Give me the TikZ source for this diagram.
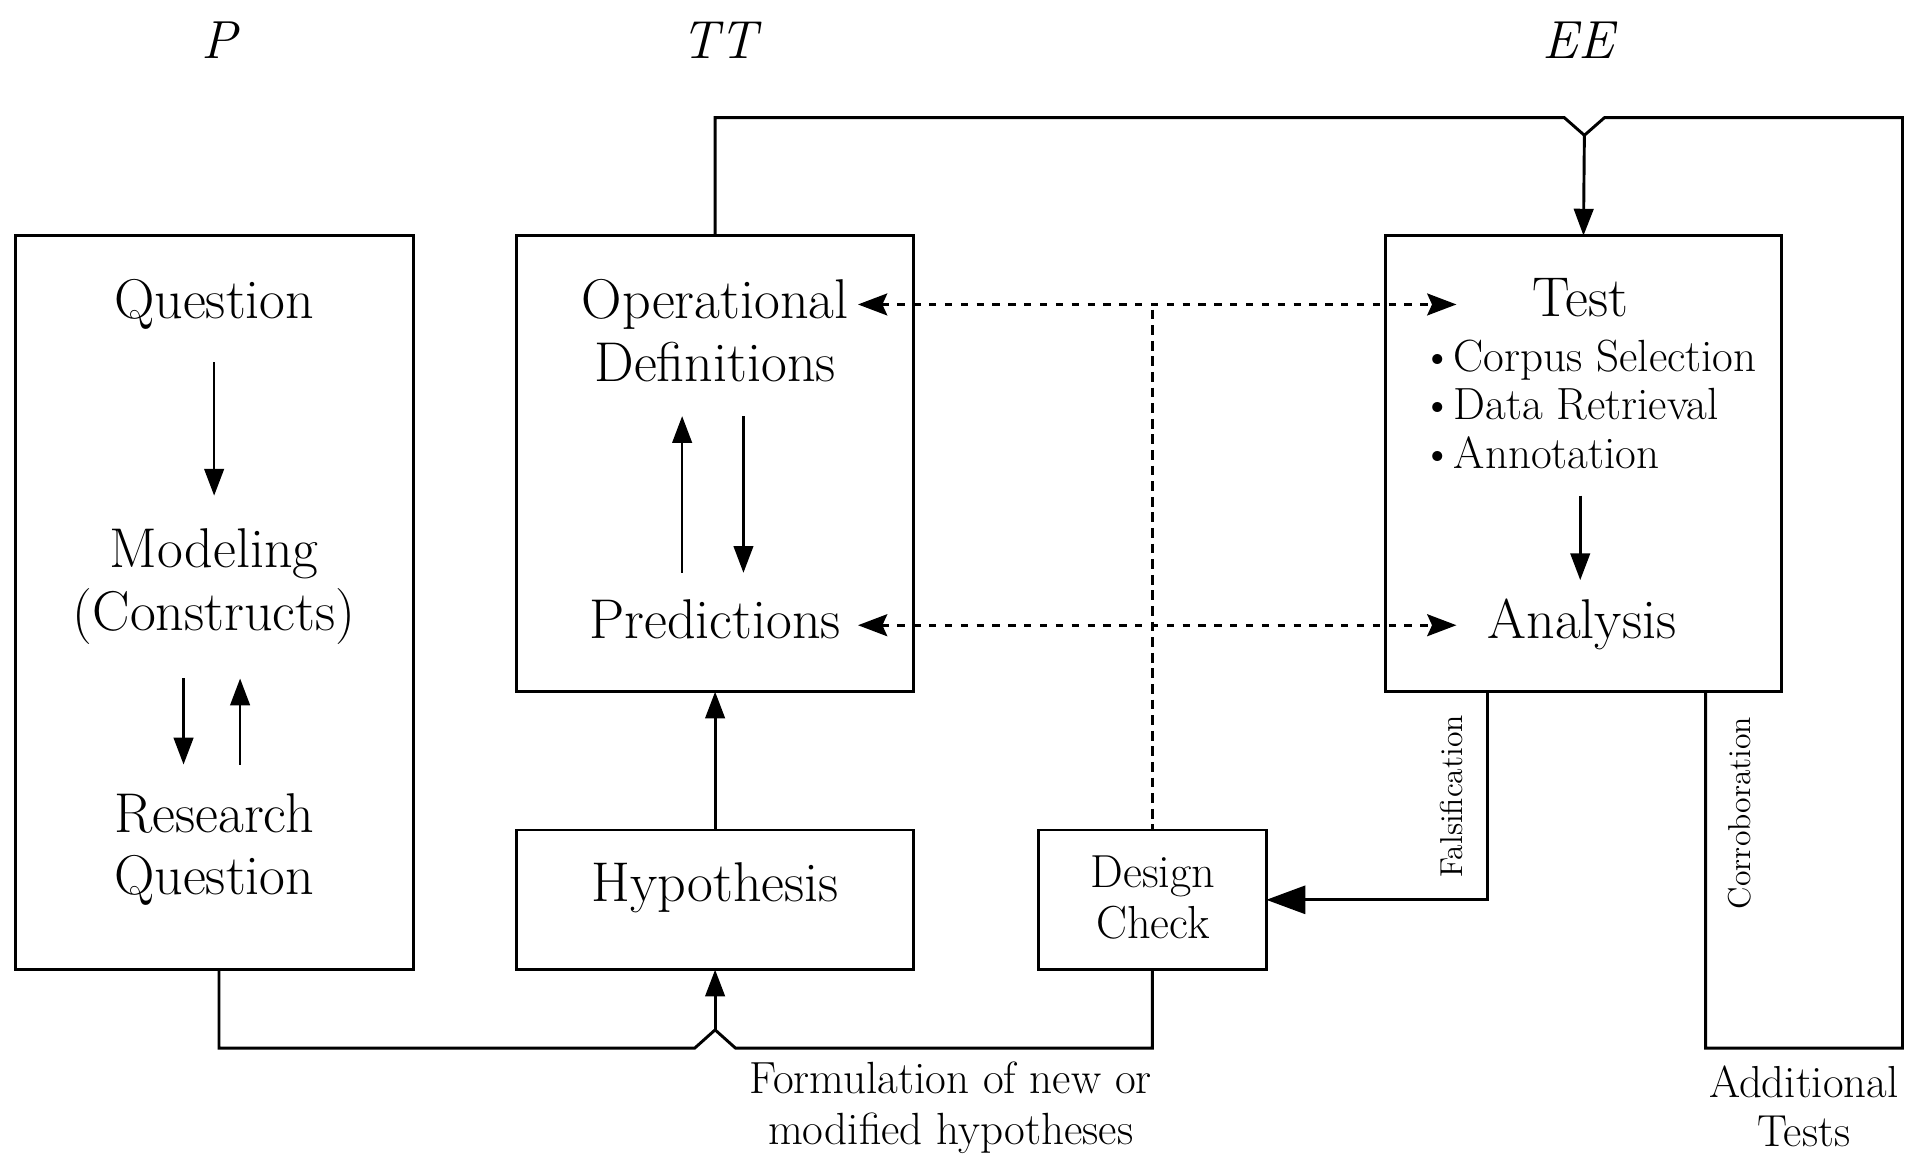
\documentclass[tikz,border=0pt]{standalone}
\usetikzlibrary{arrows.meta}
\begin{document}
\begin{tikzpicture}[x=0.5pt,y=-0.5pt,
  line width=1.2pt,
  box/.style={draw, rectangle, inner sep=0pt, outer sep=0pt},
  txt/.style={inner sep=0pt, anchor=base, font=\fontsize{23}{27}\selectfont},
  dctxt/.style={inner sep=0pt, anchor=base, font=\fontsize{19}{22}\selectfont},
  bul/.style={inner sep=0pt, anchor=base west, font=\fontsize{18.5}{21}\selectfont},
  note/.style={inner sep=0pt, anchor=base, font=\fontsize{18.5}{21}\selectfont},
  addtxt/.style={inner sep=0pt, anchor=base, font=\fontsize{18.4}{21}\selectfont},
  head/.style={inner sep=0pt, anchor=base, font=\fontsize{22}{26}\selectfont\itshape},
  side/.style={inner sep=0pt, rotate=90, font=\fontsize{13}{15}\selectfont},
  arr/.style={line width=1.1pt, -{Triangle[length=11pt,width=8pt]}},
  bigarr/.style={-{Triangle[length=16pt,width=11.5pt]}},
  dotarr/.style={line width=1.1pt, {Stealth[length=12pt,width=9pt,inset=2pt]}-{Stealth[length=12pt,width=9pt,inset=2pt]}, dash pattern=on 3pt off 3.5pt},
  vdash/.style={line width=1.1pt, dash pattern=on 4pt off 2.4pt},
]
\useasboundingbox (0,0) rectangle (1568,949.3);

% boxes
\node[box, minimum width=163.25pt, minimum height=301.15pt] (pbox) at (175.75,494.45) {};
\node[box, minimum width=162.75pt, minimum height=187.1pt] (ttbox) at (586.75,380.4) {};
\node[box, minimum width=162.75pt, minimum height=57.3pt] (hyp) at (586.75,738.3) {};
\node[box, minimum width=93.5pt, minimum height=57.3pt] (dc) at (945.5,738.3) {};
\node[box, minimum width=162.25pt, minimum height=187.1pt] (eebox) at (1299.25,380.4) {};

% column heads
\node[head] (lp) at (180,48) {P};
\node[head] (ltt) at (590,48) {TT};
\node[head] (lee) at (1295,48) {EE};

% P box texts
\node[txt] (q1) at (175.75,261) {Question};
\node[txt] (mod) at (175.75,466) {Modeling};
\node[txt] (con) at (175.75,517) {(Constructs)};
\node[txt] (res) at (175.75,683) {Research};
\node[txt] (q2) at (175.75,734) {Question};

% TT box texts
\node[txt] (op) at (586.75,261) {Operational};
\node[txt] (def) at (586.75,313) {Definitions};
\node[txt] (pred) at (586.75,524) {Predictions};
\node[txt] (hyptxt) at (586.75,740) {Hypothesis};

% design check
\node[dctxt] (des) at (946,728) {Design};
\node[dctxt] (chk) at (946,770) {Check};

% EE box texts
\node[txt] (test) at (1297,259.5) {Test};
\node[bul] (b1) at (1165,305) {\textbullet Corpus Selection};
\node[bul] (b2) at (1165,344.5) {\textbullet Data Retrieval};
\node[bul] (b3) at (1165,384) {\textbullet Annotation};
\node[txt] (ana) at (1298,524) {Analysis};

% side labels
\node[side] (fal) at (1191,653.5) {Falsification};
\node[side] (cor) at (1427,667) {Corroboration};

% bottom notes
\node[note] (f1) at (780,897.5) {Formulation of new or};
\node[note] (f2) at (780,939) {modified hypotheses};
\node[addtxt] (a1) at (1480,900.6) {Additional};
\node[addtxt] (a2) at (1480,940.5) {Tests};

% coordinates
\coordinate (pa1) at (175.7,297.4);
\coordinate (pa2) at (175.7,406.7);
\coordinate (pb1) at (150.6,556.7);
\coordinate (pb2) at (150.6,627.3);
\coordinate (pc1) at (197,627.3);
\coordinate (pc2) at (197,556.7);
\coordinate (ta1) at (559.7,470);
\coordinate (ta2) at (559.7,341.4);
\coordinate (tb1) at (610,341.4);
\coordinate (tb2) at (610,470);
\coordinate (ea1) at (1296.6,406.7);
\coordinate (ea2) at (1296.6,476);
\coordinate (pout) at (179.7,795.6);
\coordinate (hop1) at (586.75,845);
\coordinate (hop2) at (1300,111);
\coordinate (corr) at (1399.5,567.5);
\coordinate (fals) at (1220.3,567.5);
\coordinate (d1) at (704,249.8);
\coordinate (d2) at (1195,249.8);
\coordinate (d3) at (704,513);
\coordinate (d4) at (1195,513);
\coordinate (dv) at (945.5,254);

% inner arrows
\draw[arr] (pa1) -- (pa2);
\draw[arr] (pb1) -- (pb2);
\draw[arr] (pc1) -- (pc2);
\draw[arr] (ta1) -- (ta2);
\draw[arr] (tb1) -- (tb2);
\draw[arr] (ea1) -- (ea2);

% hypothesis -> predictions
\draw[arr, line width=1.2pt] (hyp.north) -- (ttbox.south);

% bottom loop
\draw (pout) |- (570,860) -- (hop1) -- (603.5,860) -| (dc.south);
\draw[arr, line width=1.2pt] (hop1) -- (hyp.south);

% top loop
\draw (ttbox.north) |- (1283.5,96.5) -- (hop2) -- (1316.5,96.5) -| (1561,860) -| (corr);
\draw[arr, line width=1.2pt] (hop2) -- (eebox.north);

% falsification
\draw[bigarr] (fals) |- (dc.east);

% dashed
\draw[dotarr] (d1) -- (d2);
\draw[dotarr] (d3) -- (d4);
\draw[vdash] (dv) -- (dc.north);
\end{tikzpicture}
\end{document}
